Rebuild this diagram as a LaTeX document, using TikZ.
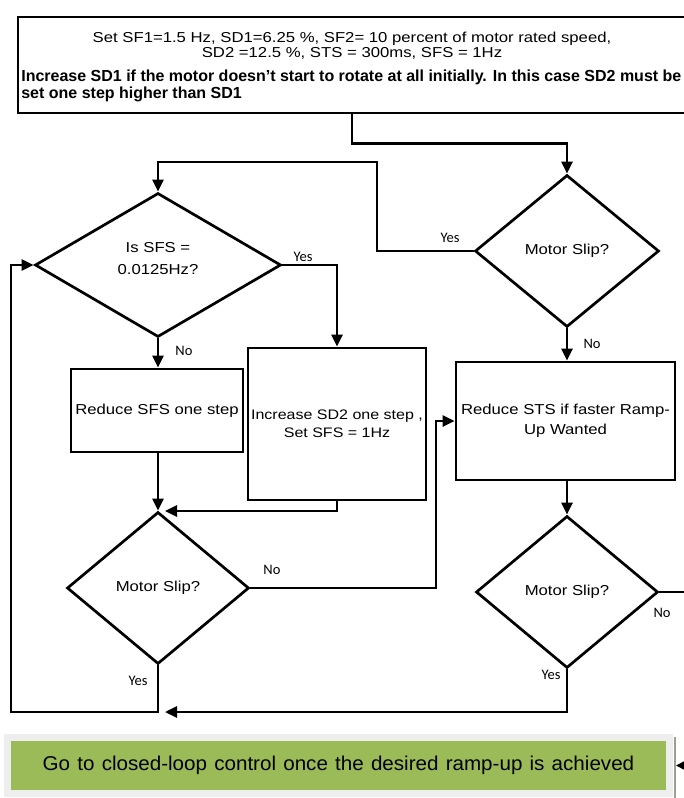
\documentclass[tikz,border=0pt]{standalone}
\usepackage{fontspec}
\setmainfont{Liberation Sans}
\newfontfamily\widesans[FakeStretch=1.16]{Liberation Sans}
\newfontfamily\goalsans[FakeStretch=1.03]{Liberation Sans}
\newfontfamily\labelsans{Carlito}
\usetikzlibrary{arrows.meta,shapes.geometric,calc}

\definecolor{goalgreen}{HTML}{9BBB59}
\definecolor{goalframe}{HTML}{EEEEEE}
\definecolor{goaledge}{HTML}{9EA08C}

\begin{document}
\begin{tikzpicture}[x=1pt,y=-1pt,
  line width=2.7pt,
  arr/.style={-{Triangle[length=12pt,width=11pt]}, line width=2.7pt},
  smallarr/.style={-{Triangle[length=8pt,width=8pt]}, line width=1.4pt},
  flowbox/.style={draw, rectangle, line width=2.7pt, inner sep=0pt, align=center,
    font=\widesans\fontsize{14.4}{19}\selectfont},
  decision/.style={draw, diamond, line width=2.7pt, inner sep=0pt, align=center,
    font=\widesans\fontsize{14.4}{22}\selectfont},
  tag/.style={font=\labelsans\fontsize{14.5}{16}\selectfont, inner sep=0pt},
  headline/.style={inner sep=0pt, font=\widesans\fontsize{14.4}{16}\selectfont},
  boldline/.style={inner sep=0pt, anchor=base west, font=\bfseries\fontsize{16}{18}\selectfont},
]
\useasboundingbox (0,0) rectangle (684,798);

% settings box at the top
\node[draw, rectangle, line width=2.7pt, minimum width=668pt, minimum height=96pt, inner sep=0pt] (head) at (352,65) {};
\node[headline, anchor=base] (h1) at (352,42) {Set SF1=1.5 Hz, SD1=6.25 \%, SF2= 10 percent of motor rated speed,};
\node[headline, anchor=base] (h2) at (352,57) {SD2 =12.5 \%, STS = 300ms, SFS = 1Hz};
\node[boldline] (h3) at (20,81) {Increase SD1 if the motor doesn’t start to rotate at all initially. In this case SD2 must be};
\node[boldline] (h4) at (20,98) {set one step higher than SD1};

% decisions and actions
\node[decision, minimum width=184pt, minimum height=152pt] (d1) at (567,251) {Motor Slip?};
\node[decision, minimum width=246pt, minimum height=144pt, text depth=14pt] (d2) at (158,265) {Is SFS =\\0.0125Hz?};
\node[flowbox, minimum width=172pt, minimum height=83pt] (sfs) at (157,410.5) {Reduce SFS one step};
\node[flowbox, minimum width=178pt, minimum height=152pt, font=\widesans\fontsize{13.8}{18}\selectfont] (inc) at (337,424) {Increase SD2 one step ,\\Set SFS = 1Hz};
\node[flowbox, minimum width=219pt, minimum height=118pt, font=\widesans\fontsize{14.4}{20}\selectfont] (sts) at (565.5,421) {Reduce STS if faster Ramp-\\Up Wanted};
\node[decision, minimum width=182pt, minimum height=152pt] (d3) at (158,588) {Motor Slip?};
\node[decision, minimum width=182pt, minimum height=152pt] (d4) at (567,592) {Motor Slip?};

% final step
\node[fill=goalgreen, draw=goalframe, line width=7pt, outer sep=0pt, minimum width=662pt, minimum height=56pt, inner sep=0pt,
  font=\goalsans\fontsize{20}{24}\selectfont] (goal) at (338.5,765.5)
  {\spaceskip=0.36em Go to closed-loop control once the desired ramp-up is achieved};
\draw[goaledge, line width=2pt] ($(goal.north east)+(5.5,-0.5)$) -- ($(goal.south east)+(5.5,5)$);

% routing points
\coordinate (yesturn) at (377,162);
\coordinate (incend) at (165,511);
\coordinate (stsin) at (436,421);
\coordinate (railbottom) at (11,712);
\coordinate (loopend) at (165,712);
\coordinate (d4out) at ($(d4.east)+(40,0)$);
\coordinate (goalin) at (694,765.5);

% connectors
\draw[arr] (head.south) -- ++(0,29) -| (d1.north);
\draw[arr] (d1.west) -| (yesturn) -| (d2.north);
\draw[arr] (d1.south) -- (d1.south |- sts.north);
\draw[arr] (d2.east) -| (inc.north);
\draw[arr] (d2.south) -- (d2.south |- sfs.north);
\draw[arr] (sfs.south -| d3.north) -- (d3.north);
\draw[arr] (inc.south) |- (incend);
\draw[arr] (d3.east) -| (stsin) -- (sts.west);
\draw[arr] (d3.south) |- (railbottom) |- (d2.west);
\draw[arr] (sts.south -| d4.north) -- (d4.north);
\draw[arr] (d4.south) |- (loopend);
\draw (d4.east) -- (d4out);
\draw[smallarr] (goalin) -- ($(goal.east)+(6.5,0)$);

% branch labels
\node[tag] (t1) at (450,238) {Yes};
\node[tag] (t2) at (592,344) {No};
\node[tag] (t3) at (303,257) {Yes};
\node[tag] (t4) at (184,351) {No};
\node[tag] (t5) at (272,570) {No};
\node[tag] (t6) at (138,681) {Yes};
\node[tag] (t7) at (662,613) {No};
\node[tag] (t8) at (551,675) {Yes};
\end{tikzpicture}
\end{document}
